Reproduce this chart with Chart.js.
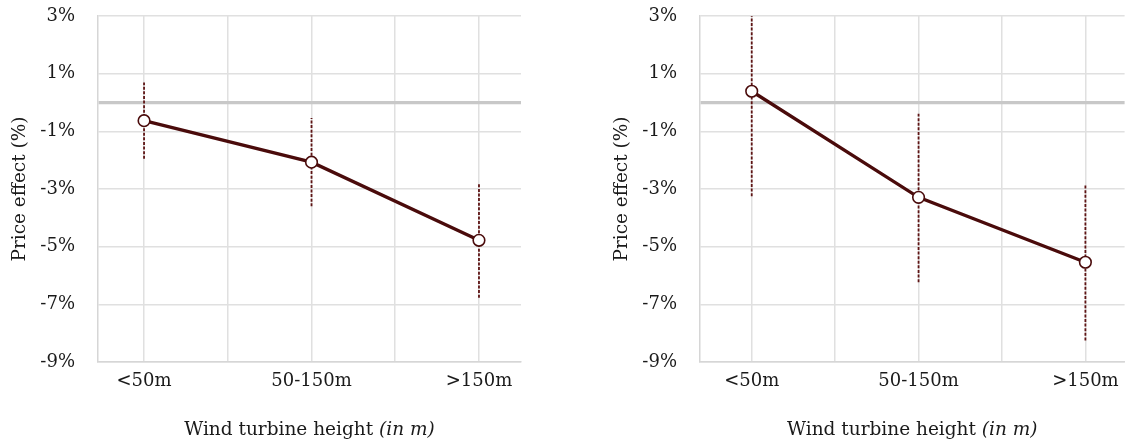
<!DOCTYPE html>
<html>
<head>
<meta charset="utf-8">
<script src="https://cdn.jsdelivr.net/npm/chart.js@4/dist/chart.umd.min.js"></script>
<style>
  html, body { margin: 0; padding: 0; background: #fff; overflow: hidden; }
  #wrap { position: relative; width: 1125px; height: 443px; overflow: hidden; }
  canvas { position: absolute; top: 0; }
  #c1 { left: 0; }
  #c2 { left: 600px; }
</style>
</head>
<body>
<div id="wrap">
  <canvas id="c1" width="560" height="443"></canvas>
  <canvas id="c2" width="532" height="443"></canvas>
</div>
<script>
// ---- data ----
const categories = ['<50m', '50-150m', '>150m'];
const yTicks = [-9, -7, -5, -3, -1, 0, 1, 3];
const yAxisTitle = 'Price effect (%)';
const xAxisTitle = 'Wind turbine height ';
const xAxisTitleItalic = '(in m)';

const leftEstimate = [-0.63, -2.07, -4.78];
const leftLower    = [-1.95, -3.60, -6.77];
const leftUpper    = [ 0.69, -0.54, -2.79];

const rightEstimate = [ 0.39, -3.29, -5.54];
const rightLower    = [-3.25, -6.23, -8.25];
const rightUpper    = [ 4.03, -0.39, -2.87];

// ---- style ----
const FONT = '"DejaVu Serif", "Liberation Serif", serif';
const TEXT = '#1a1a1a';
const LINE = '#4a0b0b';
const ERR  = '#5e1414';
const GRID = '#e0e0e0';
const ZERO = '#c8c8c8';

const titlePlugin = {
  id: 'axisTitles',
  afterDraw(chart, args, opts) {
    const { ctx, chartArea } = chart;
    ctx.save();
    ctx.fillStyle = TEXT;
    ctx.font = '18.5px ' + FONT;
    ctx.save();
    ctx.translate(opts.yTitleX, (chartArea.top + chartArea.bottom) / 2);
    ctx.rotate(-Math.PI / 2);
    ctx.textAlign = 'center';
    ctx.textBaseline = 'middle';
    ctx.fillText(yAxisTitle, 0, 0);
    ctx.restore();
    const normalFont = '18.5px ' + FONT;
    const italicFont = 'italic 18.5px ' + FONT;
    ctx.font = normalFont;
    const w1 = ctx.measureText(xAxisTitle).width;
    ctx.font = italicFont;
    const w2 = ctx.measureText(xAxisTitleItalic).width;
    const cx = (chartArea.left + chartArea.right) / 2;
    const x = cx - (w1 + w2) / 2;
    ctx.textAlign = 'left';
    ctx.textBaseline = 'alphabetic';
    ctx.font = normalFont;
    ctx.fillText(xAxisTitle, x, opts.xTitleY);
    ctx.font = italicFont;
    ctx.fillText(xAxisTitleItalic, x + w1, opts.xTitleY);
    ctx.restore();
  }
};

function makeChart(canvasId, est, lower, upper, cfg) {
  const mainData = est.map((v, i) => ({ x: i + 1, y: v }));
  const errSets = est.map((v, i) => ({
    data: [{ x: i + 1, y: lower[i] }, { x: i + 1, y: upper[i] }],
    showLine: true,
    borderColor: ERR,
    borderWidth: 1.8,
    borderDash: [3, 1.6],
    pointRadius: 0,
    pointHoverRadius: 0,
    clip: 0
  }));
  return new Chart(document.getElementById(canvasId), {
    type: 'scatter',
    data: {
      datasets: [
        {
          data: mainData,
          showLine: true,
          borderColor: LINE,
          borderWidth: 3.3,
          pointRadius: 5.8,
          pointBorderWidth: 1.6,
          pointBorderColor: LINE,
          pointBackgroundColor: '#ffffff',
          clip: 10
        },
        ...errSets
      ]
    },
    options: {
      responsive: false,
      animation: false,
      devicePixelRatio: 1,
      layout: { padding: { top: 16, right: cfg.padRight, bottom: 0, left: 0 } },
      plugins: {
        legend: { display: false },
        tooltip: { enabled: false },
        axisTitles: { yTitleX: cfg.yTitleX, xTitleY: 434.5 }
      },
      scales: {
        x: {
          type: 'linear',
          min: cfg.xMin,
          max: cfg.xMax,
          afterBuildTicks: (s) => { s.ticks = [1, 1.5, 2, 2.5, 3].map(v => ({ value: v })); },
          afterFit: (s) => { s.height = 81; s.paddingLeft = 0; s.paddingRight = 0; },
          grid: { color: GRID, lineWidth: 1.5, drawTicks: false },
          border: { display: true, color: '#d6d6d6', width: 1.5 },
          ticks: {
            padding: 9,
            color: TEXT,
            font: { family: FONT, size: 18 },
            maxRotation: 0,
            autoSkip: false,
            callback: (v) => Number.isInteger(v) ? categories[v - 1] : ''
          }
        },
        y: {
          type: 'linear',
          min: -9,
          max: 3,
          afterBuildTicks: (s) => { s.ticks = yTicks.map(v => ({ value: v })); },
          afterFit: (s) => { s.width = cfg.yWidth; s.paddingTop = 0; s.paddingBottom = 0; },
          grid: {
            drawTicks: false,
            color: (c) => c.tick && c.tick.value === 0 ? ZERO : GRID,
            lineWidth: (c) => c.tick && c.tick.value === 0 ? 3.2 : 1.5
          },
          border: { display: true, color: '#d6d6d6', width: 1.5 },
          ticks: {
            padding: 23,
            color: TEXT,
            font: { family: FONT, size: 18 },
            autoSkip: false,
            callback: (v) => v === 0 ? '' : v + '%'
          }
        }
      }
    },
    plugins: [titlePlugin]
  });
}

makeChart('c1', leftEstimate, leftLower, leftUpper,
  { xMin: 0.725, xMax: 3.251, yWidth: 98, padRight: 39, yTitleX: 20 });
makeChart('c2', rightEstimate, rightLower, rightUpper,
  { xMin: 0.69, xMax: 3.235, yWidth: 100, padRight: 0, yTitleX: 22 });
</script>
</body>
</html>
